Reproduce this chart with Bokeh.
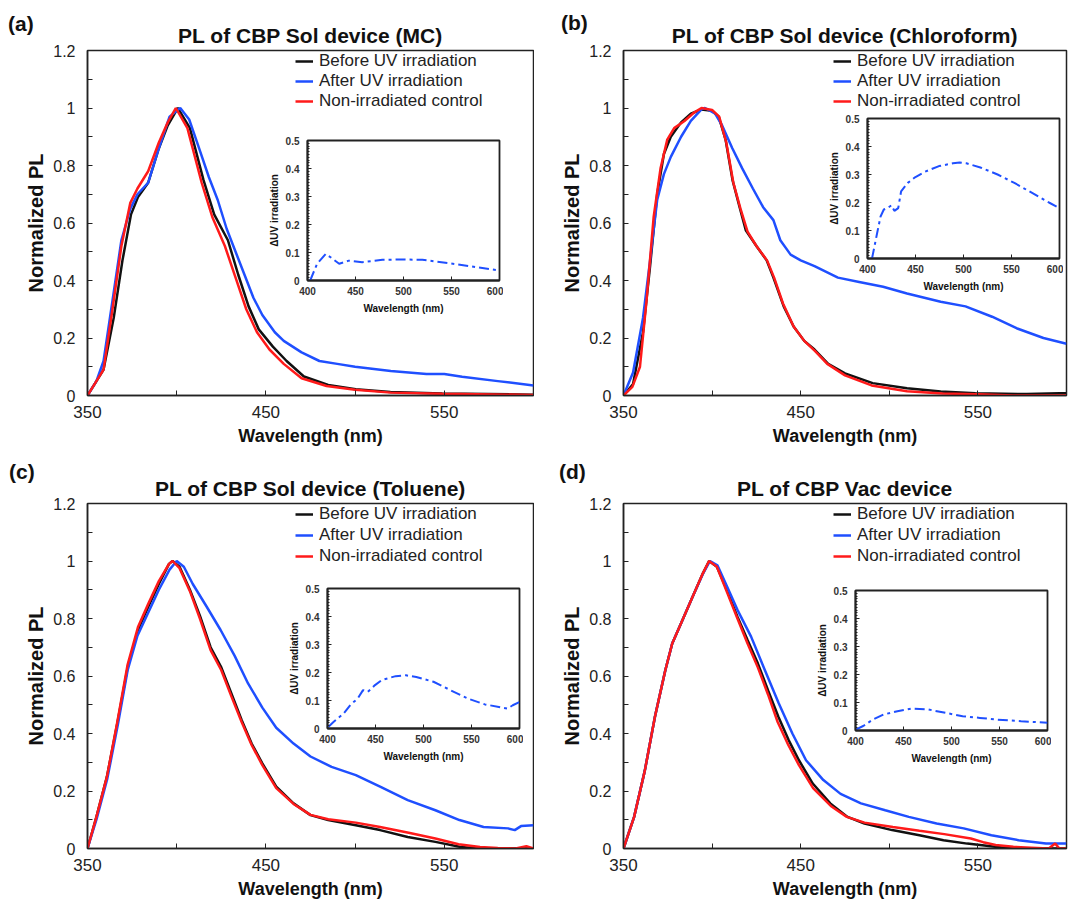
from bokeh.plotting import figure
from bokeh.models import (GridBox, Column, Div, FixedTicker, Legend, LegendItem, Range1d,
                          CustomJSTickFormatter)
from bokeh.embed import file_html
from bokeh.resources import INLINE

FONT = "Liberation Sans"
BLACK = "#111111"
BLUE = "#1f4fff"
RED = "#ff1a1a"

titles = ["PL of CBP Sol device (MC)", "PL of CBP Sol device (Chloroform)",
          "PL of CBP Sol device (Toluene)", "PL of CBP Vac device"]
tags = ["(a)", "(b)", "(c)", "(d)"]
series_names = ["Before UV irradiation", "After UV irradiation", "Non-irradiated control"]
main_x_ticks = [350, 400, 450, 500, 550, 600]
main_y_ticks = [0, 0.2, 0.4, 0.6, 0.8, 1, 1.2]
inset_x_ticks = [400, 450, 500, 550, 600]
inset_y_ticks = [0, 0.1, 0.2, 0.3, 0.4, 0.5]

# ---------------- Panel (a) MC ----------------
a_before_x = [350, 359, 364.7, 369.6, 374.4, 378.3, 384, 390, 395, 400.6, 407.4, 415, 421, 428.7, 434.5,
              440.3, 446, 453.9, 461.6, 471.3, 484.9, 500.4, 519.8, 548.8, 600]
a_before_y = [0, 0.09, 0.27, 0.47, 0.63, 0.69, 0.74, 0.86, 0.94, 1.0, 0.93, 0.75, 0.63, 0.54, 0.42,
              0.31, 0.23, 0.17, 0.12, 0.066, 0.037, 0.022, 0.012, 0.007, 0.003]
a_after_x = [350, 355, 359, 364, 369, 374, 378, 384, 390, 396, 402, 407, 412, 418, 423, 428, 433, 438,
             443, 448, 455, 460, 470, 480, 490, 500, 520, 540, 550, 560, 580, 600]
a_after_y = [0, 0.05, 0.12, 0.33, 0.54, 0.65, 0.70, 0.74, 0.86, 0.97, 1.0, 0.96, 0.87, 0.76, 0.68, 0.58,
             0.50, 0.42, 0.34, 0.28, 0.22, 0.19, 0.15, 0.12, 0.11, 0.10, 0.085, 0.075, 0.075, 0.065,
             0.05, 0.035]
a_ctrl_x = [350, 359, 364, 369, 374, 378, 384, 390, 395, 399.5, 406, 414, 420, 427, 433, 439, 445, 452,
            460, 470, 484, 500, 520, 549, 600]
a_ctrl_y = [0, 0.09, 0.30, 0.52, 0.67, 0.72, 0.78, 0.88, 0.95, 1.0, 0.93, 0.74, 0.62, 0.52, 0.41, 0.30,
            0.22, 0.16, 0.11, 0.06, 0.033, 0.02, 0.01, 0.006, 0.002]
a_delta_x = [402.8, 410, 419, 424, 433, 443, 457, 478, 499, 519.6, 547, 575, 599]
a_delta_y = [0, 0.06, 0.095, 0.083, 0.06, 0.071, 0.065, 0.074, 0.075, 0.074, 0.062, 0.048, 0.036]

# ---------------- Panel (b) Chloroform ----------------
b_before_x = [350, 355.4, 361, 365, 369, 372.8, 376.7, 382.5, 388, 394, 400, 403.7, 407.6, 411.5, 415.3,
              419, 425, 430.8, 434.6, 440.4, 446, 452, 457.8, 465.5, 475, 490.6, 510, 529, 548.6,
              577.6, 596, 600]
b_before_y = [0, 0.04, 0.22, 0.45, 0.70, 0.84, 0.90, 0.95, 0.98, 0.995, 0.99, 0.97, 0.89, 0.75, 0.66,
              0.575, 0.52, 0.47, 0.41, 0.31, 0.24, 0.19, 0.16, 0.11, 0.077, 0.043, 0.025, 0.014, 0.008,
              0.005, 0.008, 0.008]
b_after_x = [350, 355.4, 361, 365, 369, 372.8, 376.7, 382.5, 388, 394, 396, 401.8, 405.6, 411.4, 417, 423,
             428.8, 434.6, 438.5, 444.3, 450, 457.8, 471, 483, 496.5, 510, 529, 543, 558, 571.8, 587, 600]
b_after_y = [0, 0.08, 0.27, 0.47, 0.68, 0.77, 0.83, 0.90, 0.955, 0.995, 1.0, 0.98, 0.94, 0.86, 0.79, 0.72,
             0.655, 0.61, 0.54, 0.49, 0.47, 0.45, 0.41, 0.395, 0.378, 0.355, 0.326, 0.31, 0.274, 0.234,
             0.20, 0.18]
b_ctrl_x = [350, 355, 359.3, 363, 367, 370.9, 374.7, 378.6, 384.4, 390, 394, 400, 404, 408, 412, 416, 420,
            425, 431, 435, 440, 446, 452, 458, 465, 475, 490, 510, 530, 550, 570, 600]
b_ctrl_y = [0, 0.03, 0.10, 0.33, 0.62, 0.79, 0.89, 0.93, 0.955, 0.985, 1.0, 0.993, 0.97, 0.88, 0.74,
            0.65, 0.57, 0.52, 0.47, 0.41, 0.32, 0.24, 0.19, 0.155, 0.11, 0.07, 0.035, 0.015, 0.007,
            0.004, 0.0, 0.0]
b_delta_x = [404.7, 410, 413.6, 417, 420.8, 425, 428, 432, 435, 442, 449.5, 460, 474.5, 489, 496, 503,
             517.6, 535.5, 553, 571, 589, 600]
b_delta_y = [0, 0.09, 0.15, 0.175, 0.18, 0.19, 0.17, 0.18, 0.24, 0.27, 0.29, 0.31, 0.33, 0.34, 0.343,
             0.34, 0.325, 0.30, 0.27, 0.235, 0.20, 0.18]

# ---------------- Panel (c) Toluene ----------------
c_before_x = [350, 355, 360.9, 366.7, 372.5, 378.3, 384, 390, 395.7, 397.7, 401.6, 407.4, 413, 419, 425,
              430.6, 436.4, 442, 448, 455.8, 465.5, 475, 484.9, 500.4, 514, 529.5, 545, 558.5, 568, 600]
c_before_y = [0, 0.11, 0.25, 0.435, 0.63, 0.76, 0.84, 0.92, 0.99, 1.0, 0.98, 0.90, 0.81, 0.70, 0.63, 0.54,
              0.447, 0.365, 0.296, 0.215, 0.157, 0.116, 0.099, 0.081, 0.064, 0.04, 0.023, 0.006, 0.0, 0.0]
c_after_x = [350, 355, 361, 367, 372.5, 378, 384, 390, 396, 400, 404, 409, 416.9, 424.6, 432.5, 440, 448,
             455.8, 465.5, 475, 486.8, 500.4, 514, 529.5, 545, 558.5, 572, 585.7, 589.5, 593, 600]
c_after_y = [0, 0.10, 0.24, 0.43, 0.62, 0.74, 0.82, 0.90, 0.97, 1.0, 0.98, 0.92, 0.84, 0.76, 0.67, 0.574,
             0.49, 0.42, 0.365, 0.32, 0.284, 0.255, 0.215, 0.168, 0.133, 0.099, 0.075, 0.07, 0.064,
             0.078, 0.081]
c_ctrl_x = [350, 355, 360.9, 366.7, 372.5, 378.3, 384, 390, 395.7, 397.7, 401.6, 407.4, 413, 419, 425,
            430.6, 436.4, 442, 448, 455.8, 465.5, 475, 484.9, 500.4, 514, 530, 545, 558, 570, 580, 590,
            596, 600]
c_ctrl_y = [0, 0.11, 0.25, 0.44, 0.64, 0.77, 0.85, 0.93, 0.99, 1.0, 0.975, 0.895, 0.80, 0.69, 0.62, 0.53,
            0.44, 0.36, 0.29, 0.21, 0.155, 0.117, 0.102, 0.09, 0.075, 0.055, 0.035, 0.015, 0.005, 0.002,
            0.0, 0.008, 0.0]
c_delta_x = [401, 406.5, 417, 424, 431.5, 437, 442, 449.5, 456.6, 471, 481.7, 492.5, 510.4, 528, 546, 564,
             578.5, 587.5, 593, 600]
c_delta_y = [0.006, 0.024, 0.054, 0.085, 0.107, 0.137, 0.131, 0.155, 0.173, 0.187, 0.19, 0.184, 0.167,
             0.137, 0.107, 0.086, 0.077, 0.071, 0.083, 0.095]

# ---------------- Panel (d) Vac ----------------
d_before_x = [350, 356, 362, 367.8, 373.6, 377.5, 383.3, 389, 394.8, 398.3, 402.7, 408.5, 414.3, 420,
              425.8, 431.6, 437.4, 443.2, 449, 456.8, 466.7, 476.4, 486, 501.6, 517, 530.6, 544, 559.7,
              569, 600]
d_before_y = [0, 0.11, 0.27, 0.46, 0.62, 0.713, 0.795, 0.876, 0.957, 1.0, 0.98, 0.897, 0.806, 0.725, 0.644,
              0.55, 0.458, 0.377, 0.307, 0.226, 0.157, 0.11, 0.087, 0.064, 0.046, 0.029, 0.017, 0.006,
              0.0, 0.0]
d_after_x = [350, 356, 362, 367.8, 373.6, 377.5, 383.3, 389, 394.8, 398.8, 403, 408.5, 414.3, 422, 429.8,
             437.6, 445.3, 453, 462.8, 472.5, 484, 497.7, 511, 526.7, 542, 557.6, 573, 588.4, 600]
d_after_y = [0, 0.11, 0.27, 0.46, 0.62, 0.713, 0.795, 0.876, 0.955, 1.0, 0.985, 0.91, 0.83, 0.737, 0.62,
             0.505, 0.40, 0.307, 0.238, 0.19, 0.157, 0.133, 0.11, 0.087, 0.07, 0.046, 0.029, 0.017, 0.017]
d_ctrl_x = [350, 356, 362, 367.8, 373.6, 377.5, 383.3, 389, 394.8, 398.3, 402.7, 408.5, 414.3, 420,
            425.8, 431.6, 437, 443, 449, 457, 467, 476, 486, 502, 517, 531, 546, 553, 560, 570, 580, 590,
            593.6, 596, 600]
d_ctrl_y = [0, 0.11, 0.27, 0.46, 0.62, 0.713, 0.795, 0.876, 0.957, 1.0, 0.98, 0.89, 0.80, 0.713, 0.63,
            0.535, 0.44, 0.36, 0.29, 0.21, 0.148, 0.11, 0.09, 0.075, 0.062, 0.05, 0.035, 0.022, 0.012,
            0.006, 0.003, 0.0, 0.017, 0.0, 0.0]
d_delta_x = [400.7, 408, 418.6, 429, 443.6, 458, 476, 493.7, 511.6, 529.5, 547.4, 572.5, 600]
d_delta_y = [0.004, 0.016, 0.04, 0.057, 0.069, 0.078, 0.075, 0.063, 0.051, 0.045, 0.039, 0.033, 0.028]

panels = [
    (a_before_x, a_before_y, a_after_x, a_after_y, a_ctrl_x, a_ctrl_y, a_delta_x, a_delta_y),
    (b_before_x, b_before_y, b_after_x, b_after_y, b_ctrl_x, b_ctrl_y, b_delta_x, b_delta_y),
    (c_before_x, c_before_y, c_after_x, c_after_y, c_ctrl_x, c_ctrl_y, c_delta_x, c_delta_y),
    (d_before_x, d_before_y, d_after_x, d_after_y, d_ctrl_x, d_ctrl_y, d_delta_x, d_delta_y),
]

# inset placement inside each grid cell: (margin_top, margin_left)
inset_offsets = [(134, 265), (112, 291), (129, 285), (131, 279)]
# panel tag placement inside each grid cell: (margin_top, margin_left)
tag_offsets = [(11, 8), (10, 27), (6, 9), (6, 25)]


def style_axis(ax, size, label_size):
    ax.axis_line_color = "#222222"
    ax.axis_line_width = 1.5
    ax.major_tick_line_color = "#222222"
    ax.minor_tick_line_color = "#222222"
    ax.major_label_text_font = FONT
    ax.major_label_text_font_size = size
    ax.major_label_text_color = "#222222"
    ax.axis_label_text_font = FONT
    ax.axis_label_text_font_style = "bold"
    ax.axis_label_text_font_size = label_size
    ax.axis_label_text_color = "#111111"


def make_main(i):
    left_col = i % 2 == 0
    top_row = i < 2
    bx, by, ax_, ay, cx, cy, _, _ = panels[i]
    bottom = 58 if top_row else 57
    p = figure(frame_width=446 if left_col else 443, frame_height=345,
               min_border_left=87 if left_col else 89, min_border_right=1 if left_col else 2,
               min_border_top=50, min_border_bottom=bottom,
               x_range=Range1d(350, 600), y_range=Range1d(0, 1.2),
               output_backend="svg", toolbar_location=None, title=titles[i])
    p.title.text_font = FONT
    p.title.text_font_size = "21px"
    p.title.text_font_style = "bold"
    p.title.align = "center"
    p.title.text_color = "#111111"
    p.title.standoff = 8
    p.grid.visible = False
    p.outline_line_color = "#222222"
    p.outline_line_width = 1.5
    p.outline_line_alpha = 1
    p.background_fill_color = "white"
    p.border_fill_color = "white"

    p.xaxis.ticker = FixedTicker(ticks=main_x_ticks)
    p.xaxis.formatter = CustomJSTickFormatter(code="return ((tick - 350) % 100 == 0) ? String(tick) : ''")
    p.yaxis.ticker = FixedTicker(ticks=main_y_ticks, minor_ticks=[0.1, 0.3, 0.5, 0.7, 0.9, 1.1])
    p.yaxis.formatter = CustomJSTickFormatter(code="return String(Math.round(tick * 10) / 10)")
    for ax in (p.xaxis[0], p.yaxis[0]):
        style_axis(ax, "17px", "18px")
        ax.major_tick_in = 5
        ax.major_tick_out = 0
        ax.minor_tick_in = 5
        ax.minor_tick_out = 0
    p.yaxis.major_label_text_font_size = "16px"
    p.xaxis.major_label_standoff = 10
    p.xaxis.axis_label_standoff = 5
    p.yaxis.major_label_standoff = 12
    p.yaxis.axis_label_standoff = 3
    p.yaxis.axis_label_text_font_size = "20px"
    p.xaxis.axis_label = "Wavelength (nm)"
    p.yaxis.axis_label = "Normalized PL"

    r1 = p.line(bx, by, line_color=BLACK, line_width=2.5)
    r2 = p.line(ax_, ay, line_color=BLUE, line_width=2.5)
    r3 = p.line(cx, cy, line_color=RED, line_width=2.5)
    legend = Legend(items=[LegendItem(label=series_names[0], renderers=[r1]),
                           LegendItem(label=series_names[1], renderers=[r2]),
                           LegendItem(label=series_names[2], renderers=[r3])],
                    location=(208 if left_col else 210, 284 if top_row else 282))
    legend.label_text_font = FONT
    legend.label_text_font_size = "17px"
    legend.label_text_color = "#222222"
    legend.glyph_width = 18
    legend.glyph_height = 20
    legend.label_height = 20
    legend.label_standoff = 6
    legend.spacing = 0 if top_row else 1
    legend.padding = 0
    legend.margin = 0
    legend.border_line_alpha = 0
    legend.background_fill_alpha = 0
    p.add_layout(legend)
    return p


def make_inset(i):
    _, _, _, _, _, _, dx, dy = panels[i]
    q = figure(frame_width=192, frame_height=140, min_border_left=40, min_border_right=4,
               min_border_top=6, min_border_bottom=42,
               x_range=Range1d(400, 600), y_range=Range1d(0, 0.5),
               output_backend="svg", toolbar_location=None)
    q.grid.visible = False
    q.outline_line_color = "#222222"
    q.outline_line_width = 1.8
    q.outline_line_alpha = 1
    q.background_fill_color = "white"
    q.border_fill_alpha = 0
    q.xaxis.ticker = FixedTicker(ticks=inset_x_ticks)
    q.yaxis.ticker = FixedTicker(ticks=inset_y_ticks,
                                 minor_ticks=[k / 100 for k in range(0, 51)])
    q.yaxis.formatter = CustomJSTickFormatter(code="return String(Math.round(tick * 10) / 10)")
    for ax in (q.xaxis[0], q.yaxis[0]):
        style_axis(ax, "10px", "10px")
        ax.major_label_text_font_style = "bold"
        ax.major_label_text_color = "#333333"
        ax.major_tick_in = 4
        ax.major_tick_out = 0
        ax.minor_tick_in = 2
        ax.minor_tick_out = 0
        ax.axis_line_width = 1.8
    q.xaxis.major_label_standoff = 6
    q.xaxis.axis_label_standoff = 5
    q.yaxis.major_label_standoff = 8
    q.yaxis.axis_label_standoff = 3
    q.xaxis.axis_label = "Wavelength (nm)"
    q.yaxis.axis_label = "\u0394UV irradiation"
    q.line(dx, dy, line_color=BLUE, line_width=2, line_dash="10 4 3 4")
    mt, ml = inset_offsets[i]
    return Column(children=[q], margin=(mt, 0, 0, ml))


def make_tag(i):
    mt, ml = tag_offsets[i]
    return Div(text=tags[i], width=40, height=26, margin=(mt, 0, 0, ml),
               styles={"font-family": FONT, "font-size": "21px", "font-weight": "bold",
                       "line-height": "26px", "color": "#111111"})


children = []
for i in range(4):
    r, c = divmod(i, 2)
    children.append((make_main(i), r, c))
    children.append((make_inset(i), r, c))
    children.append((make_tag(i), r, c))

grid = GridBox(children=children, spacing=0)

open("out.html", "w").write(file_html(grid, INLINE))
